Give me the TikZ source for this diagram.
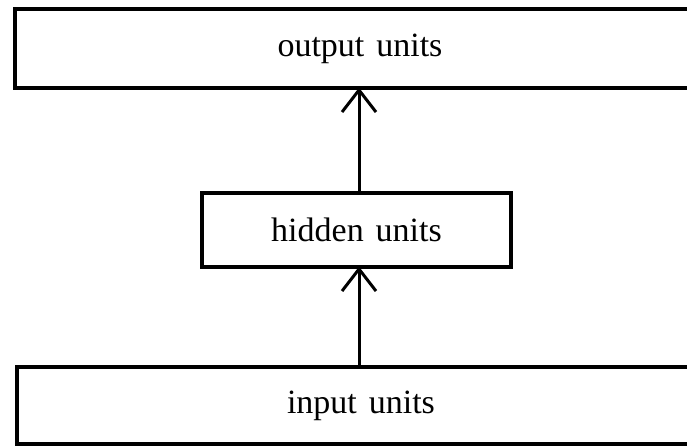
\documentclass[tikz,border=0pt]{standalone}
\usepackage{fontspec}
\setmainfont{Liberation Serif}[WordSpace={1.4}]
\usetikzlibrary{arrows.meta}
\begin{document}
\begin{tikzpicture}[x=1pt,y=1pt,
  unitbox/.style={draw,line width=3.2pt,inner sep=0pt,font=\fontsize{34}{40}\selectfont},
  feed/.style={line width=3pt,shorten >=-2pt,-{Straight Barb[length=22pt,width=34pt,line width=3pt]}}]
\useasboundingbox (0,0) rectangle (687,445);
\node[unitbox,minimum width=690pt,minimum height=79pt] (out) at (360,396.5) {output units};
\node[unitbox,minimum width=309pt,minimum height=74pt] (hid) at (356.5,215) {hidden units};
\node[unitbox,minimum width=688pt,minimum height=77pt] (inp) at (361,39.5) {input units};
\draw[feed] (hid.north -| 359,0) -- (out.south -| 359,0);
\draw[feed] (inp.north -| 359,0) -- (hid.south -| 359,0);
\end{tikzpicture}
\end{document}
